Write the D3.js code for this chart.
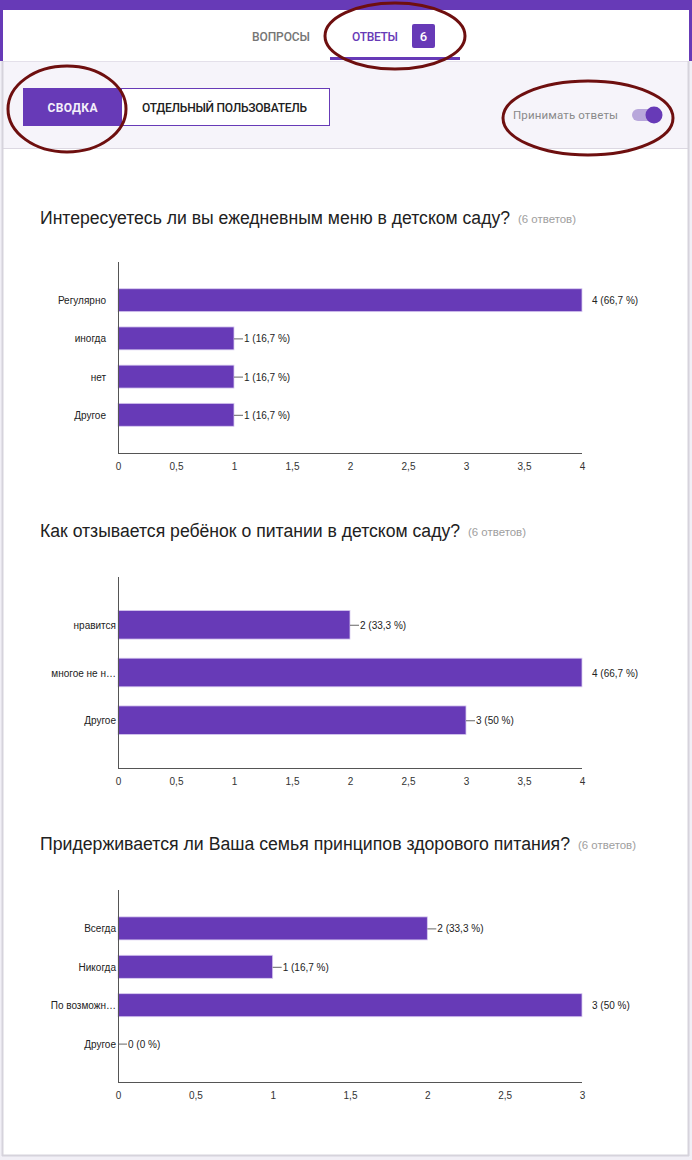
<!DOCTYPE html>
<html><head><meta charset="utf-8">
<script src="https://cdn.jsdelivr.net/npm/d3@7"></script>
<style>
html,body{margin:0;padding:0;background:#fff;}
svg{display:block;}
</style></head>
<body>
<svg id="c" width="692" height="1160"></svg>
<script>
// ---------- data ----------
const totalResponses = 6;

const q1Title = "Интересуетесь ли вы ежедневным меню в детском саду?";
const q1Categories = ["Регулярно", "иногда", "нет", "Другое"];
const q1Values = [4, 1, 1, 1];
const q1Ticks = [0, 0.5, 1, 1.5, 2, 2.5, 3, 3.5, 4];

const q2Title = "Как отзывается ребёнок о питании в детском саду?";
const q2Categories = ["нравится", "многое не н…", "Другое"];
const q2Values = [2, 4, 3];
const q2Ticks = [0, 0.5, 1, 1.5, 2, 2.5, 3, 3.5, 4];

const q3Title = "Придерживается ли Ваша семья принципов здорового питания?";
const q3Categories = ["Всегда", "Никогда", "По возможн…", "Другое"];
const q3Values = [2, 1, 3, 0];
const q3Ticks = [0, 0.5, 1, 1.5, 2, 2.5, 3];

const tabLabels = ["ВОПРОСЫ", "ОТВЕТЫ"];
const viewLabels = ["СВОДКА", "ОТДЕЛЬНЫЙ ПОЛЬЗОВАТЕЛЬ"];
const acceptLabel = "Принимать ответы";

// ---------- drawing ----------
const purple = "#673ab7";
const svg = d3.select("#c");
const font = "'Liberation Sans', Arial, sans-serif";

// page backgrounds
svg.append("rect").attr("x",0).attr("y",0).attr("width",692).attr("height",1160).attr("fill","#f1eff6");
// header
svg.append("rect").attr("x",0).attr("y",0).attr("width",692).attr("height",61).attr("fill",purple);
svg.append("rect").attr("x",3).attr("y",10).attr("width",686).attr("height",51).attr("fill","#fff");
// lavender toolbar
svg.append("rect").attr("x",3).attr("y",61).attr("width",685).attr("height",87).attr("fill","#f6f4fa");
svg.append("line").attr("x1",3).attr("x2",688).attr("y1",61.5).attr("y2",61.5).attr("stroke","#e4e0ea");
svg.append("line").attr("x1",3).attr("x2",688).attr("y1",148.5).attr("y2",148.5).attr("stroke","#dcd8e2");
// content card
svg.append("rect").attr("x",3).attr("y",149).attr("width",685).attr("height",1006).attr("fill","#fff");
svg.append("line").attr("x1",2.5).attr("x2",2.5).attr("y1",61).attr("y2",1156).attr("stroke","#d6d3dc").attr("stroke-width",2);
svg.append("line").attr("x1",688.5).attr("x2",688.5).attr("y1",61).attr("y2",1156).attr("stroke","#d6d3dc").attr("stroke-width",2);
svg.append("line").attr("x1",2).attr("x2",689).attr("y1",1155.5).attr("y2",1155.5).attr("stroke","#d6d3dc").attr("stroke-width",2);

// tabs
svg.append("text").attr("x",281).attr("y",41).attr("text-anchor","middle")
  .attr("font-family","Roboto, sans-serif").attr("font-size",12).attr("font-weight",500)
  .attr("fill","#757575").attr("textLength",58).text(tabLabels[0]);
svg.append("text").attr("x",375).attr("y",41).attr("text-anchor","middle")
  .attr("font-family","Roboto, sans-serif").attr("font-size",12).attr("font-weight",500)
  .attr("fill",purple).attr("textLength",46).text(tabLabels[1]);
svg.append("rect").attr("x",412).attr("y",24).attr("width",23).attr("height",24).attr("rx",2).attr("fill",purple);
svg.append("text").attr("x",423.5).attr("y",41).attr("text-anchor","middle")
  .attr("font-family","Roboto, sans-serif").attr("font-size",13).attr("font-weight",500)
  .attr("fill","#fff").text(String(totalResponses));
svg.append("rect").attr("x",330).attr("y",57).attr("width",130).attr("height",3).attr("fill",purple);

// view buttons
svg.append("rect").attr("x",23.5).attr("y",88.5).attr("width",306).attr("height",37).attr("fill","#fff").attr("stroke",purple).attr("stroke-width",1);
svg.append("rect").attr("x",23).attr("y",88).attr("width",99).attr("height",38).attr("fill",purple);
svg.append("text").attr("x",72.5).attr("y",112).attr("text-anchor","middle")
  .attr("font-family","Roboto, sans-serif").attr("font-size",12).attr("font-weight",700)
  .attr("fill","#f3effa").attr("textLength",50).text(viewLabels[0]);
svg.append("text").attr("x",142).attr("y",112)
  .attr("font-family","Roboto, sans-serif").attr("font-size",12).attr("font-weight",500)
  .attr("fill","#212121").attr("textLength",165).text(viewLabels[1]);

// accept toggle
svg.append("text").attr("x",513).attr("y",119)
  .attr("font-family","Roboto, sans-serif").attr("font-size",11.5)
  .attr("fill","#8a8a8a").attr("textLength",105).text(acceptLabel);
svg.append("rect").attr("x",632).attr("y",109).attr("width",28).attr("height",12).attr("rx",6).attr("fill","#b8a7db");
svg.append("circle").attr("cx",654).attr("cy",115).attr("r",8.5).attr("fill",purple);

// ---------- charts ----------
const fmtTick = d => String(d).replace(".", ",");
const fmtPct = v => String(Math.round(v / totalResponses * 1000) / 10).replace(".", ",");

function drawChart(cfg) {
  const g = svg.append("g");
  g.append("text").attr("x",40).attr("y",cfg.titleY)
    .attr("font-family",font).attr("font-size",18).attr("fill","#212121")
    .attr("textLength",cfg.titleLen).attr("lengthAdjust","spacingAndGlyphs").text(cfg.title);
  g.append("text").attr("x",40 + cfg.titleLen + 8).attr("y",cfg.titleY - 1)
    .attr("font-family",font).attr("font-size",10).attr("fill","#9e9e9e")
    .attr("textLength",58).attr("lengthAdjust","spacingAndGlyphs")
    .text("(" + totalResponses + " ответов)");

  const x = d3.scaleLinear().domain([0, d3.max(cfg.ticks)]).range([118, 582]);
  const y = d3.scalePoint().domain(cfg.categories).range([cfg.top, cfg.bottom]).padding(1);
  const bh = y.step() * 0.6;
  const data = cfg.categories.map((c, i) => ({c, v: cfg.values[i]}));
  const maxV = d3.max(cfg.ticks);

  g.selectAll("rect.bar").data(data).join("rect").attr("class","bar")
    .attr("x", x(0)).attr("y", d => y(d.c) - bh / 2)
    .attr("width", d => x(d.v) - x(0)).attr("height", bh)
    .attr("fill", purple).attr("stroke","#d9ccf0").attr("stroke-width",0.8);

  g.selectAll("line.lead").data(data.filter(d => d.v < maxV)).join("line").attr("class","lead")
    .attr("x1", d => x(d.v)).attr("x2", d => x(d.v) + 9)
    .attr("y1", d => y(d.c) + 0.5).attr("y2", d => y(d.c) + 0.5)
    .attr("stroke","#666").attr("stroke-width",1);
  g.selectAll("text.val").data(data).join("text").attr("class","val")
    .attr("x", d => x(d.v) + 10)
    .attr("y", d => y(d.c) + 4)
    .attr("font-family",font).attr("font-size",10).attr("fill","#222")
    .text(d => d.v + " (" + fmtPct(d.v) + " %)");

  const yAxis = d3.axisLeft(y).tickSize(0).tickPadding(cfg.labelPad);
  const ya = g.append("g").attr("transform", `translate(${x(0)},0)`).call(yAxis);
  ya.select(".domain").remove();
  ya.selectAll("text").attr("font-family",font).attr("font-size",10).attr("fill","#222").attr("dy","0.35em");

  g.append("line").attr("x1",118.5).attr("x2",118.5).attr("y1",cfg.top).attr("y2",cfg.bottom)
    .attr("stroke","#555").attr("stroke-width",1);
  g.append("line").attr("x1",118).attr("x2",582).attr("y1",cfg.bottom + 0.5).attr("y2",cfg.bottom + 0.5)
    .attr("stroke","#555").attr("stroke-width",1);

  const xAxis = d3.axisBottom(x).tickValues(cfg.ticks).tickFormat(fmtTick).tickSize(0).tickPadding(10);
  const xa = g.append("g").attr("transform", `translate(0,${cfg.bottom})`).call(xAxis);
  xa.select(".domain").remove();
  xa.selectAll("text").attr("font-family",font).attr("font-size",10).attr("fill","#333");
}

drawChart({title: q1Title, titleY: 224, titleLen: 470, categories: q1Categories, values: q1Values,
  ticks: q1Ticks, top: 262, bottom: 453, labelPad: 12});
drawChart({title: q2Title, titleY: 537, titleLen: 420, categories: q2Categories, values: q2Values,
  ticks: q2Ticks, top: 577, bottom: 768, labelPad: 2});
drawChart({title: q3Title, titleY: 850, titleLen: 530, categories: q3Categories, values: q3Values,
  ticks: q3Ticks, top: 890, bottom: 1082, labelPad: 2});

// ---------- hand-drawn annotation ellipses ----------
const ann = [
  {cx: 395, cy: 36, rx: 70, ry: 33},
  {cx: 67, cy: 109, rx: 59, ry: 43},
  {cx: 588, cy: 118, rx: 85, ry: 37}
];
svg.selectAll("ellipse.ann").data(ann).join("ellipse").attr("class","ann")
  .attr("cx", d => d.cx).attr("cy", d => d.cy).attr("rx", d => d.rx).attr("ry", d => d.ry)
  .attr("fill","none").attr("stroke","#6e0f0f").attr("stroke-width",3);
</script>
</body></html>
